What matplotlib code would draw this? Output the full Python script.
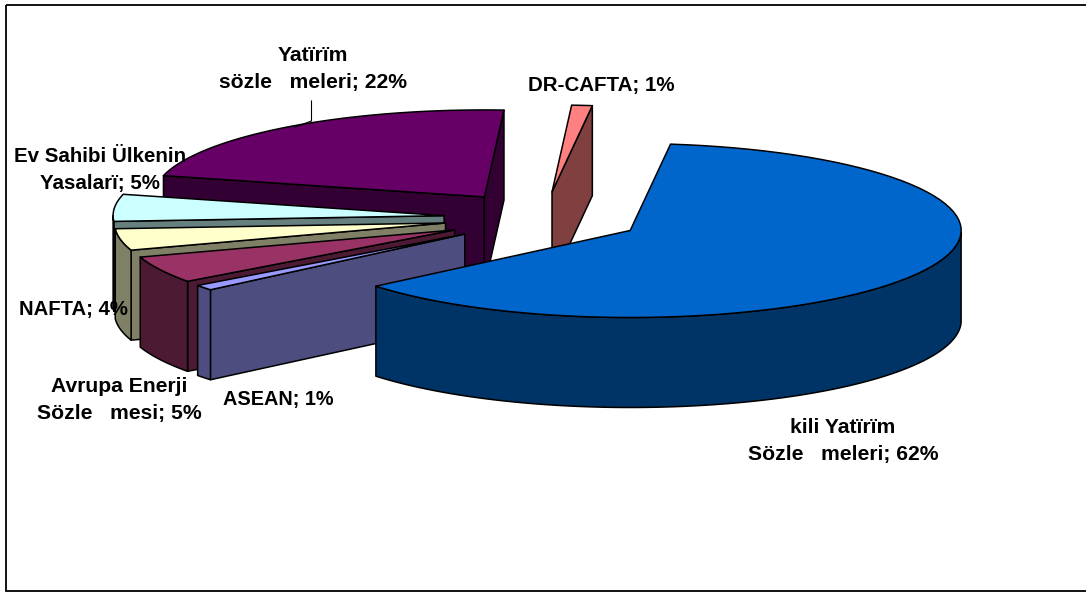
import numpy as np
import matplotlib
matplotlib.use('Agg')
import matplotlib.pyplot as plt
from matplotlib.patches import Polygon, Rectangle

plt.rcParams['font.family'] = ['Liberation Sans', 'DejaVu Sans']

# --- slices, clockwise from the start angle ---
slice_names = ['kili Yatïrïm\nSözle   meleri', 'ASEAN', 'Avrupa Enerji\nSözle   mesi', 'NAFTA',
               'Ev Sahibi Ülkenin\nYasalarï', 'Yatïrïm\nsözle   meleri', 'DR-CAFTA']
slice_values = [62, 1, 5, 4, 5, 22, 1]
slice_colors = ['#0066CC', '#9999FF', '#993366', '#FFFFCC', '#CCFFFF', '#660066', '#FF8080']

# label centres in pixels, and their sizes
label_pos = [(843, 441), (278, 399), (119, 400), (73, 309), (100, 170), (313, 69), (601, 86)]
label_size = [15.2, 14.3, 15.2, 14.6, 14.8, 15.2, 14.8]

# --- projection of the tilted pie, in pixels ---
CX, CY = 543, 218
RX, RY = 331, 87
DEPTH = 90
EXPLODE = 0.3
START = 83.0

# back slices are painted first
draw_order = [5, 6, 4, 3, 2, 1, 0]


def rim(cx, cy, t0, t1, n=80):
    t = np.radians(np.linspace(t0, t1, n))
    return np.column_stack([cx + RX * np.cos(t), cy - RY * np.sin(t)])


def darker(hex_color):
    r, g, b = matplotlib.colors.to_rgb(hex_color)
    return (r / 2, g / 2, b / 2)


def face(ax, pts, color):
    ax.add_patch(Polygon(pts, closed=True, facecolor=color, edgecolor='black', linewidth=1.1, joinstyle='round'))


def draw_slice(ax, t0, t1, color):
    mid = np.radians((t0 + t1) / 2)
    cx = CX + EXPLODE * RX * np.cos(mid)
    cy = CY - EXPLODE * RY * np.sin(mid)
    side = darker(color)
    down = np.array([0, DEPTH])
    apex = np.array([cx, cy])

    # cut faces, only when they turn towards the viewer
    for t, visible in ((t0, np.cos(np.radians(t0)) < 0), (t1, np.cos(np.radians(t1)) > 0)):
        if visible:
            p = rim(cx, cy, t, t, 1)[0]
            face(ax, [apex, p, p + down, apex + down], side)

    # outer wall, the part of the rim on the near side
    ts = np.linspace(t0, t1, 200)
    near = ts[np.sin(np.radians(ts)) < 0]
    if len(near) > 1:
        top = rim(cx, cy, near[0], near[-1])
        face(ax, np.vstack([top, (top + down)[::-1]]), side)

    # top of the slice
    face(ax, np.vstack([[apex], rim(cx, cy, t0, t1)]), color)


fig = plt.figure(figsize=(10.86, 5.92), dpi=100)
ax = fig.add_axes([0, 0, 1, 1])
ax.set_xlim(0, 1086)
ax.set_ylim(592, 0)
ax.axis('off')

# chart border
ax.add_patch(Rectangle((6, 5), 1120, 586, fill=False, edgecolor='black', linewidth=1.3))

angles = START - np.cumsum([0] + slice_values) * 3.6
for i in draw_order:
    draw_slice(ax, angles[i], angles[i + 1], slice_colors[i])

# leader line of the investment treaties label
ax.plot([311.5, 311.5, 295], [101, 121, 127], color='black', linewidth=0.8)

for name, val, (x, y), size in zip(slice_names, slice_values, label_pos, label_size):
    ax.text(x, y, f'{name}; {val}%', ha='center', va='center', fontsize=size, fontweight='bold',
            linespacing=1.5, color='black')

fig.savefig('out.png', dpi=100)
